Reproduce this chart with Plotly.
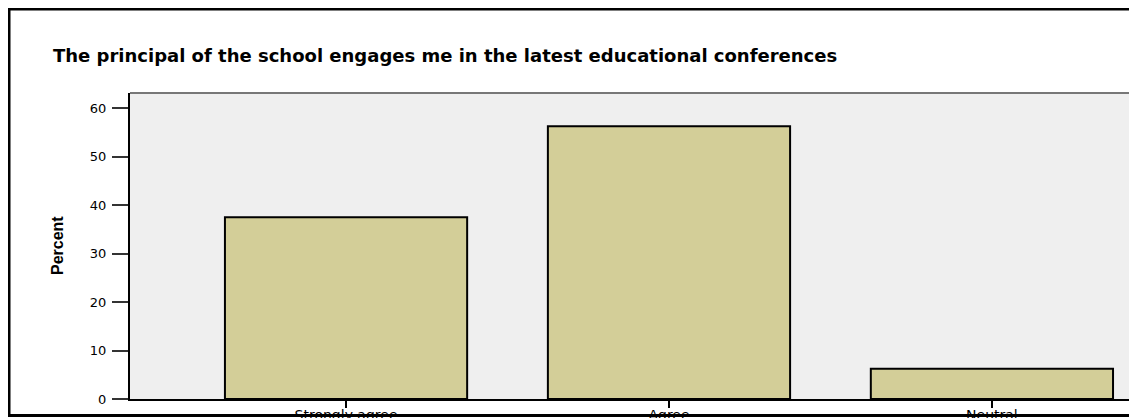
import plotly.graph_objects as go

categories = ["Strongly agree", "Agree", "Neutral"]
percent = [37.5, 56.25, 6.25]
y_ticks = [0, 10, 20, 30, 40, 50, 60]

title_text = "The principal of the school engages me in the latest educational conferences"

# the page body adds an 8px margin, so positions are in figure pixels (reference - 8)
W, H = 1137, 418
L, T, B = 122, 85, 27
plot_w = W - L
plot_h = H - T - B


def px_x(x):
    return (x - L) / plot_w


def px_y(y):
    return (H - B - y) / plot_h


fig = go.Figure()
fig.add_trace(go.Bar(
    x=categories,
    y=percent,
    width=0.75,
    marker=dict(color='#D3CE98', line=dict(color='black', width=2)),
))

fig.update_layout(
    width=W, height=H, autosize=False,
    margin=dict(l=L, r=0, t=T, b=B, pad=0),
    paper_bgcolor='white', plot_bgcolor='#EFEFEF',
    showlegend=False,
    title=dict(text=title_text, x=45 / W, xref='container', xanchor='left',
               y=1 - 48 / H, yref='container', yanchor='middle',
               font=dict(family='DejaVu Sans', size=18, color='black', weight='bold')),
    xaxis=dict(type='category', range=[-0.669, 2.474], showgrid=False,
               showline=True, linecolor='black', linewidth=1.5,
               ticks='outside', ticklen=7, tickwidth=2, tickcolor='black',
               tickfont=dict(family='DejaVu Sans', size=14, color='black'),
               ticklabelstandoff=-5),
    yaxis=dict(range=[0, 63.1], tickvals=y_ticks, showgrid=False, zeroline=False,
               showline=True, linecolor='black', linewidth=2,
               ticks='outside', ticklen=16, tickwidth=1.5, tickcolor='#333333',
               tickfont=dict(family='DejaVu Sans', size=13, color='black'),
               ticklabelstandoff=3),
)

fig.add_annotation(text="Percent", textangle=-90, showarrow=False,
                   xref='paper', yref='paper', x=px_x(49), y=0.5,
                   xanchor='center', yanchor='middle',
                   font=dict(family='Liberation Sans Narrow, Liberation Sans', size=16,
                             color='black', weight='bold'))

# top edge of the plot frame (right edge is cropped in the source)
fig.add_shape(type='line', xref='paper', yref='paper', x0=0, x1=1.01, y0=1, y1=1,
              line=dict(color='#777777', width=2))

# outer chart frame, cropped on the right
fig.add_shape(type='rect', xref='paper', yref='paper',
              x0=px_x(1), x1=1.05, y0=px_y(407.5), y1=px_y(1),
              line=dict(color='black', width=3), layer='above')

fig.write_html("out.html")
